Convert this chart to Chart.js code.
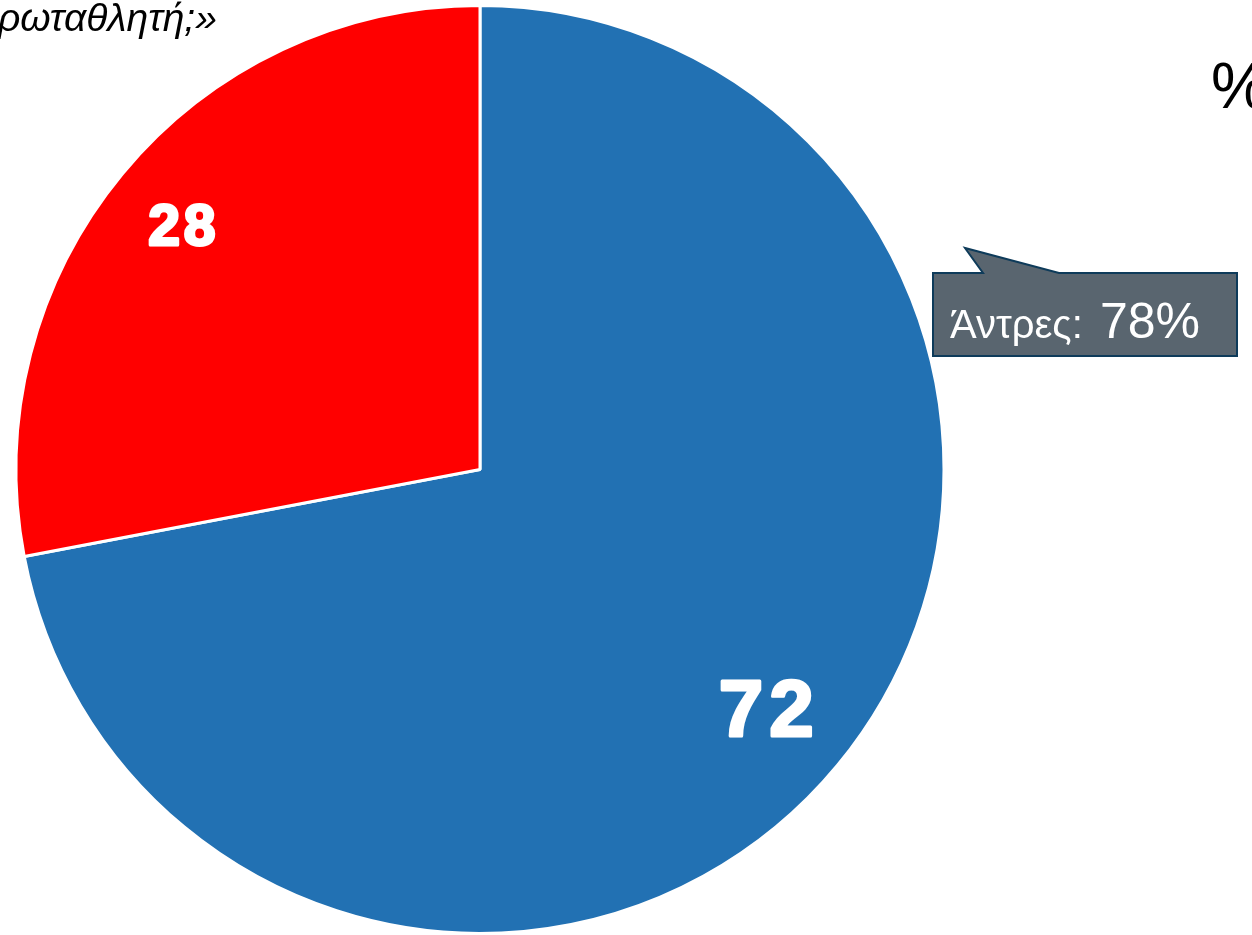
<!DOCTYPE html>
<html>
<head>
<meta charset="utf-8">
<script src="https://cdn.jsdelivr.net/npm/chart.js@4"></script>
<style>
  html, body { margin: 0; padding: 0; background: #fff; overflow: hidden; }
  #wrap { position: relative; width: 1252px; height: 935px; }
</style>
</head>
<body>
<div id="wrap"><canvas id="pie"></canvas></div>
<script>
// data
const categories = ["Άντρες", "Γυναίκες"];
const values = [72, 28];
const sliceColors = ["#2271b3", "#ff0000"];
const labelSizes = [80, 57];
const titleText = "ρωταθλητή;»";
const calloutLabel = "Άντρες:";
const calloutValue = "78%";

// numbers on the slices
const sliceLabels = {
  id: "sliceLabels",
  afterDatasetsDraw(chart) {
    const ctx = chart.ctx;
    const meta = chart.getDatasetMeta(0);
    meta.data.forEach((arc, i) => {
      const { x, y, startAngle, endAngle, outerRadius } = arc.getProps(
        ["x", "y", "startAngle", "endAngle", "outerRadius"], true);
      const mid = (startAngle + endAngle) / 2;
      const r = outerRadius * 0.82;
      const sp = Math.round(labelSizes[i] * 0.07);
      ctx.save();
      ctx.fillStyle = "#fff";
      ctx.strokeStyle = "#fff";
      ctx.lineWidth = 3;
      ctx.lineJoin = "round";
      ctx.font = "bold " + labelSizes[i] + "px 'Liberation Sans', Arial, sans-serif";
      ctx.letterSpacing = sp + "px";
      ctx.textAlign = "center";
      ctx.textBaseline = "middle";
      const tx = x + Math.cos(mid) * r - sp / 2 - 1;
      const ty = y + Math.sin(mid) * r + 2;
      ctx.strokeText(String(values[i]), tx, ty);
      ctx.fillText(String(values[i]), tx, ty);
      ctx.restore();
    });
  },
};

// callout box + cut off texts
const extras = {
  id: "extras",
  afterDraw(chart) {
    const ctx = chart.ctx;
    ctx.save();
    // title fragment top-left
    ctx.fillStyle = "#000";
    ctx.font = "italic 39px 'Liberation Sans', Arial, sans-serif";
    ctx.textBaseline = "alphabetic";
    ctx.fillText(titleText, -2, 31);
    // percent sign top-right
    ctx.font = "64px 'Liberation Sans', Arial, sans-serif";
    ctx.fillText("%", 1211, 108);

    // callout
    ctx.beginPath();
    ctx.moveTo(933, 273);
    ctx.lineTo(983, 273);
    ctx.lineTo(965, 248);
    ctx.lineTo(1059, 273);
    ctx.lineTo(1237, 273);
    ctx.lineTo(1237, 356);
    ctx.lineTo(933, 356);
    ctx.closePath();
    ctx.fillStyle = "#59656f";
    ctx.fill();
    ctx.lineWidth = 2;
    ctx.strokeStyle = "#0e3b5a";
    ctx.stroke();

    ctx.fillStyle = "#fff";
    ctx.font = "40px 'Liberation Sans', Arial, sans-serif";
    ctx.fillText(calloutLabel, 950, 338);
    ctx.font = "50px 'Liberation Sans', Arial, sans-serif";
    ctx.fillText(calloutValue, 1100, 338);
    ctx.restore();
  },
};

new Chart(document.getElementById("pie"), {
  type: "pie",
  data: {
    labels: categories,
    datasets: [{
      data: values,
      backgroundColor: sliceColors,
      borderColor: "#ffffff",
      borderWidth: 3,
    }],
  },
  options: {
    responsive: true,
    maintainAspectRatio: false,
    animation: false,
    layout: { padding: { left: 14, top: 4, right: 306, bottom: 0 } },
    plugins: {
      legend: { display: false },
      tooltip: { enabled: false },
    },
  },
  plugins: [sliceLabels, extras],
});
</script>
</body>
</html>
